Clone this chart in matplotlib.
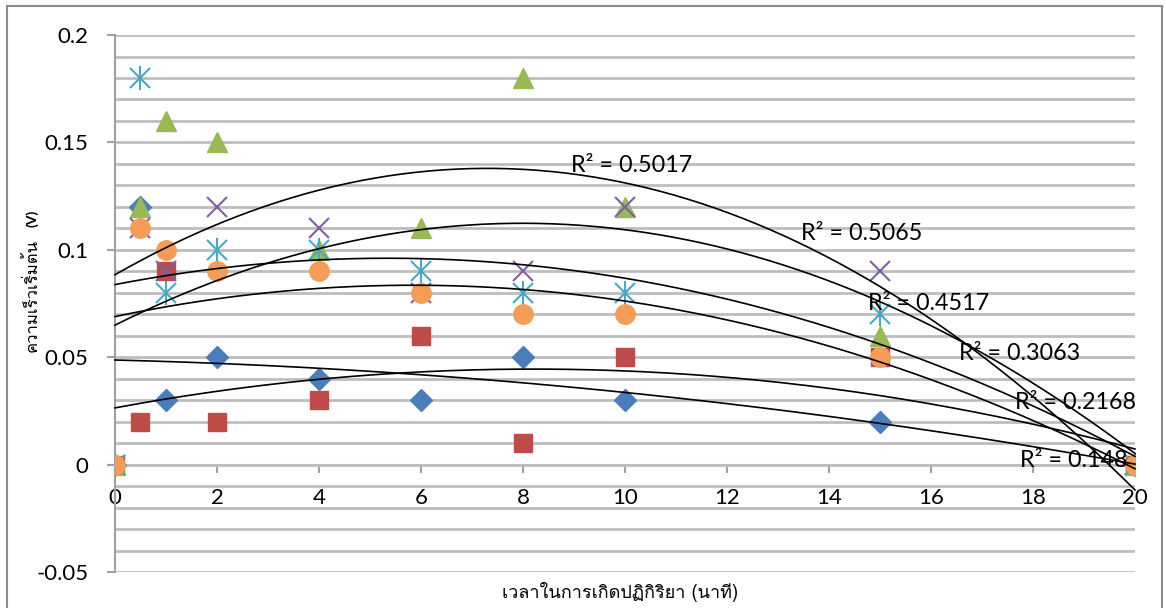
import matplotlib
matplotlib.use("Agg")
import matplotlib.pyplot as plt
import numpy as np
from matplotlib import font_manager
from matplotlib.ft2font import FT2Font
from matplotlib.patches import Rectangle
from matplotlib.ticker import MultipleLocator


def find_thai_font():
    """First installed family that has Thai glyphs."""
    for entry in font_manager.fontManager.ttflist:
        try:
            if 0x0E01 in FT2Font(entry.fname).get_charmap():
                return entry.name
        except Exception:
            continue
    return "DejaVu Sans"


# ── Data ─────────────────────────────────────────────────────────
time_min = [0, 0.5, 1, 2, 4, 6, 8, 10, 15, 20]

series_1 = [0, 0.12, 0.03, 0.05, 0.04, 0.03, 0.05, 0.03, 0.02, 0]
series_2 = [0, 0.02, 0.09, 0.02, 0.03, 0.06, 0.01, 0.05, 0.05, 0]
series_3 = [0, 0.12, 0.16, 0.15, 0.10, 0.11, 0.18, 0.12, 0.06, 0]
series_4 = [0, 0.11, 0.09, 0.12, 0.11, 0.08, 0.09, 0.12, 0.09, 0]
series_5 = [0, 0.18, 0.08, 0.10, 0.10, 0.09, 0.08, 0.08, 0.07, 0]
series_6 = [0, 0.11, 0.10, 0.09, 0.09, 0.08, 0.07, 0.07, 0.05, 0]

r2_labels = ["R² = 0.5017", "R² = 0.5065", "R² = 0.4517",
             "R² = 0.3063", "R² = 0.2168", "R² = 0.148"]
r2_pos = [(8.94, 0.1394), (13.45, 0.1077), (14.76, 0.0751),
          (16.55, 0.0517), (17.65, 0.0289), (17.75, 0.0019)]

y_ticks = [-0.05, 0, 0.05, 0.1, 0.15, 0.2]
y_ticklabels = ["-0.05", "0", "0.05", "0.1", "0.15", "0.2"]
x_ticks = list(range(0, 21, 2))

x_label = "เวลาในการเกิดปฏิกิริยา (นาที)"
y_label_th = "ความเร็วเริ่มต้น"
y_label_unit = "(V)"

thai_font = find_thai_font()
num_font = ["Lato", "DejaVu Sans"]

fig = plt.figure(figsize=(11.66, 6.08), dpi=100)
ax = fig.add_axes([0.0986, 0.0592, 0.8748, 0.8832])

# chart area border (bottom edge runs off the canvas)
fig.patches.append(Rectangle((0.006, -0.02), 0.9905, 1.01, transform=fig.transFigure,
                             fill=False, edgecolor="#8c8c8c", linewidth=1.5))

grid_c = "#bdbdbd"
axis_c = "#a0a0a0"
styles = [
    (series_1, "D", "#4a7ebb", 11, None),
    (series_2, "s", "#be4b48", 13, None),
    (series_3, "^", "#98b954", 14, None),
    (series_4, "x", "#7d60a0", 15, 1.5),
    (series_5, "ast", "#46aac5", 15, 1.5),
    (series_6, "o", "#f59d56", 14, None),
]

xs = np.array(time_min)
for i, (vals, m, c, ms, mew) in enumerate(styles):
    z = 3 + i * 0.1
    if m == "ast":
        # asterisk = cross + vertical bar
        ax.plot(xs, vals, "x", color=c, ms=ms, mew=mew, ls="none", zorder=z)
        ax.plot(xs, vals, "|", color=c, ms=ms * 1.15, mew=mew, ls="none", zorder=z)
    elif m == "x":
        ax.plot(xs, vals, m, color=c, ms=ms, mew=mew, ls="none", zorder=z)
    else:
        ax.plot(xs, vals, m, color=c, mec=c, ms=ms, ls="none", zorder=z)

# 2nd order polynomial trendlines
xf = np.linspace(0, 20, 300)
for vals, *_ in styles:
    coef = np.polyfit(xs, vals, 2)
    ax.plot(xf, np.polyval(coef, xf), color="black", lw=1.2, zorder=5, clip_on=False)

for lab, (tx, ty) in zip(r2_labels, r2_pos):
    ax.text(tx, ty, lab, fontsize=16.8, family=num_font, ha="left", va="center", zorder=6)

ax.set_xlim(0, 20)
ax.set_ylim(-0.05, 0.2)
ax.yaxis.set_minor_locator(MultipleLocator(0.01))
ax.set_yticks(y_ticks)
ax.set_yticklabels(y_ticklabels)
ax.set_xticks(x_ticks)
ax.set_xticklabels([str(v) for v in x_ticks])

ax.grid(True, which="both", axis="y", color=grid_c, lw=2, zorder=0)
ax.set_axisbelow(True)
for s in ["top", "right"]:
    ax.spines[s].set_visible(False)
ax.spines["bottom"].set_position(("data", 0))
ax.spines["bottom"].set_color(grid_c)
ax.spines["bottom"].set_linewidth(1.5)
ax.spines["left"].set_color(axis_c)
ax.spines["left"].set_linewidth(1.5)
ax.tick_params(axis="y", which="major", direction="out", length=6, width=1.5,
               color=axis_c, pad=13, labelsize=16)
ax.tick_params(axis="y", which="minor", length=0)
ax.tick_params(axis="x", direction="out", length=6, width=1.5, color=axis_c,
               pad=11, labelsize=16)
for t in ax.get_xticklabels() + ax.get_yticklabels():
    t.set_family(num_font)

ax.set_xlabel(x_label, family=[thai_font, "DejaVu Sans"], fontsize=13)
ax.xaxis.set_label_coords(0.495, -0.037)
ax.xaxis.label.set_va("center")

fig.text(32 / 1166, 1 - 295.5 / 608, y_label_th, rotation=90, ha="center", va="center",
         family=[thai_font, "DejaVu Sans"], fontsize=12)
fig.text(32 / 1166, 1 - 218 / 608, y_label_unit, rotation=90, ha="center", va="center",
         family=num_font, fontsize=10, fontweight="bold")

fig.savefig("out.png", dpi=100)
